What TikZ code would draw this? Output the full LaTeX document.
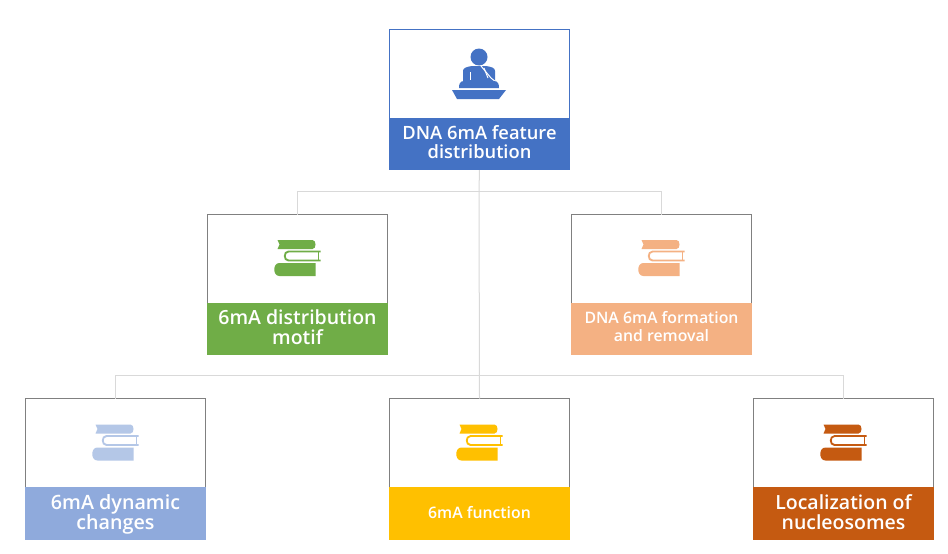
\documentclass[tikz,border=0pt]{standalone}
\usepackage{fontspec}
\setmainfont{Open Sans}[BoldFont={Open Sans Semibold},BoldFeatures={}]
\definecolor{cblue}{HTML}{4472C4}
\definecolor{cgreen}{HTML}{70AD47}
\definecolor{cpeach}{HTML}{F4B183}
\definecolor{csky}{HTML}{8FAADC}
\definecolor{cpale}{HTML}{B4C7E7}
\definecolor{cgold}{HTML}{FFC000}
\definecolor{crust}{HTML}{C55A11}
\definecolor{cline}{HTML}{D9D9D9}
\tikzset{
  card/.style={draw=#1,line width=0.8pt,fill=white,minimum width=180pt,minimum height=140pt,inner sep=0pt,outer sep=0pt},
  band/.style={fill=#1,minimum width=180.8pt,minimum height=52pt,inner sep=0pt,outer sep=0pt,anchor=south},
  bandtext/.style={text=white,inner sep=0pt,align=center,font=\bfseries\fontsize{#1}{#1}\selectfont},
  link/.style={draw=cline,line width=1pt},
}
\newcommand{\bookicon}[3]{%
  \begin{scope}[shift={(#1,#2)}]
    \fill[#3] (3,0) -- (38,0) .. controls (42,0) and (42,9) .. (38,9) -- (3,9) -- (5,4.5) -- cycle;
    \draw[#3,line width=1.8pt,fill=white] (46,11.5) -- (14,11.5) .. controls (9,11.5) and (9,20.5) .. (14,20.5) -- (46,20.5);
    \draw[#3,line width=1.8pt] (44,11.5) -- (44,20.5);
    \fill[#3] (5,23) -- (41,23) -- (41,36) -- (5,36) .. controls (-2,36) and (-2,23) .. (5,23) -- cycle;
  \end{scope}}
\begin{document}
\begin{tikzpicture}[x=1pt,y=-1pt]
\useasboundingbox (0,0) rectangle (948,554);
\fill[white] (0,0) rectangle (948,554);
\coordinate (j1) at (479,191);
\coordinate (j2) at (479.5,375);
\node[card=cblue] (root) at (479.5,99.5) {};
\node[card=gray] (m1) at (297.5,284.5) {};
\node[card=gray] (m2) at (661.5,284.5) {};
\node[card=gray,minimum height=141pt] (l1) at (115.5,469) {};
\node[card=gray,minimum height=141pt] (l2) at (479.5,469) {};
\node[card=gray,minimum height=141pt] (l3) at (843.5,469) {};
\draw[link] (root.south) -- (j1) -- (l2.north);
\draw[link] (j1) -| (m1.north);
\draw[link] (j1) -| (m2.north);
\draw[link] (j2) -| (l1.north);
\draw[link] (j2) -| (l3.north);
\node[band=cblue] (b0) at (root.south) {};
\node[band=cgreen] (b1) at (m1.south) {};
\node[band=cpeach] (b2) at (m2.south) {};
\node[band=csky,minimum height=53pt] (b3) at (l1.south) {};
\node[band=cgold,minimum height=53pt] (b4) at (l2.south) {};
\node[band=crust,minimum height=53pt] (b5) at (l3.south) {};
\node[bandtext=18.3,yshift=1.5pt] (t0) at (b0) {DNA 6mA feature\\distribution};
\node[bandtext=19.5,yshift=1.5pt] (t1) at (b1) {6mA distribution\\motif};
\node[bandtext=15.8,font=\bfseries\fontsize{15.8}{18}\selectfont,yshift=2pt] (t2) at (b2) {DNA 6mA formation\\and removal};
\node[bandtext=19.7,font=\bfseries\fontsize{19.7}{20}\selectfont,yshift=-1.5pt] (t3) at (b3) {6mA dynamic\\changes};
\node[bandtext=15.8] (t4) at (b4) {6mA function};
\node[bandtext=19.5,font=\bfseries\fontsize{19.5}{20}\selectfont,yshift=1pt] (t5) at (b5) {Localization of\\nucleosomes};
\bookicon{274.5}{240}{cgreen}
\bookicon{638.5}{240}{cpeach}
\bookicon{92.5}{424.5}{cpale}
\bookicon{456.5}{424.5}{cgold}
\bookicon{820.5}{424.5}{crust}
% speaker icon
\fill[cblue] (479,57) circle (8.5);
\fill[cblue] (463,84) -- (463,71) .. controls (463,68) and (466,67) .. (472,66) -- (486,66) .. controls (492,67) and (495,68) .. (495,71) -- (495,84) -- cycle;
\draw[white,line width=1pt] (481,66) -- (491,78) -- (496,82);
\draw[white,line width=1pt] (484,68) -- (488,78);
\draw[white,line width=0.8pt] (470,72) -- (470,80);
\fill[cblue] (459,88) .. controls (459,84) and (460,81) .. (464,81) -- (494,81) .. controls (498,81) and (499,84) .. (499,88) -- cycle;
\fill[cblue] (452,90) -- (506,90) -- (499,99) -- (457,99) -- cycle;
\end{tikzpicture}
\end{document}
